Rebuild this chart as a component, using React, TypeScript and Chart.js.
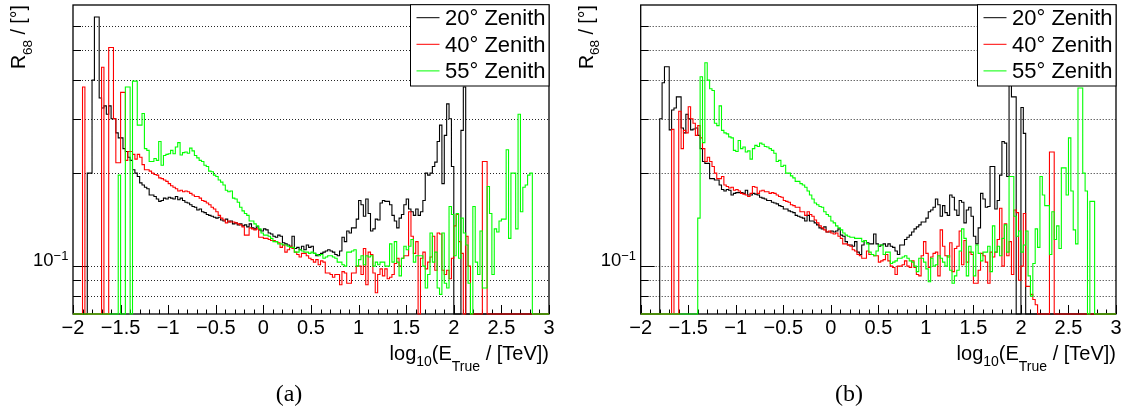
import React, { useEffect, useRef } from "react";
import { Chart, registerables } from "chart.js";

Chart.register(...registerables);

// ---------------- data ----------------
const X_MIN = -2;
const X_MAX = 3;
const BIN_WIDTH = 0.025; // 200 bins from -2 to 3
const Y_MIN = 0.07;
const Y_MAX = 0.7;

const X_TICK_VALUES = [-2, -1.5, -1, -0.5, 0, 0.5, 1, 1.5, 2, 2.5, 3];
const X_TICK_LABELS = ["\u22122", "\u22121.5", "\u22121", "\u22120.5", "0", "0.5", "1", "1.5", "2", "2.5", "3"];
const X_MINOR_STEP = 0.1;
const Y_GRID_VALUES = [0.08, 0.09, 0.1, 0.2, 0.3, 0.4, 0.5, 0.6];
const Y_LABEL_VALUE = 0.1;

const SERIES_LABELS = ["20\u00b0 Zenith", "40\u00b0 Zenith", "55\u00b0 Zenith"];
const SERIES_COLORS = ["#000000", "#ff0000", "#00ff00"];
const PANEL_CAPTIONS = ["(a)", "(b)"];

// panel (a)
const panelA_20 = [
  0, 0, 0, 0, 0, 0, 0.2, 0.2, 0.4, 0.64,
  0.64, 0.35, 0.325, 0.33, 0.31, 0.33, 0.3, 0.3, 0.27, 0.26,
  0.26, 0.24, 0.235, 0.225, 0.22, 0.205, 0.2, 0.195, 0.186, 0.183,
  0.18, 0.178, 0.17, 0.17, 0.168, 0.165, 0.162, 0.163, 0.166, 0.165,
  0.167, 0.166, 0.165, 0.168, 0.164, 0.166, 0.163, 0.161, 0.16, 0.158,
  0.156, 0.155, 0.152, 0.153, 0.15, 0.149, 0.147, 0.146, 0.145, 0.144,
  0.143, 0.144, 0.141, 0.14, 0.142, 0.139, 0.14, 0.137, 0.138, 0.136,
  0.137, 0.135, 0.136, 0.134, 0.137, 0.133, 0.132, 0.134, 0.131, 0.13,
  0.132, 0.131, 0.128, 0.127, 0.125, 0.124, 0.126, 0.125, 0.119, 0.118,
  0.117, 0.116, 0.125, 0.114, 0.115, 0.113, 0.116, 0.113, 0.117, 0.115,
  0.116, 0.11, 0.108, 0.109, 0.11, 0.111, 0.112, 0.113, 0.112, 0.111,
  0.109, 0.108, 0.112, 0.124, 0.12, 0.13, 0.128, 0.133, 0.133, 0.142,
  0.163, 0.158, 0.145, 0.165, 0.148, 0.13, 0.132, 0.142, 0.141, 0.16,
  0.163, 0.162, 0.162, 0.158, 0.146, 0.14, 0.133, 0.143, 0.147, 0.158,
  0.165, 0.153, 0.15, 0.146, 0.153, 0.146, 0.15, 0.163, 0.2, 0.197,
  0.2, 0.21, 0.217, 0.253, 0.286, 0.185, 0.265, 0.335, 0.3, 0.21,
  0, 0, 0, 0.275, 0.38, 0, 0, 0, 0, 0,
  0, 0, 0, 0, 0, 0, 0, 0, 0, 0,
  0, 0, 0, 0, 0, 0, 0, 0, 0, 0,
  0, 0, 0, 0, 0, 0, 0, 0, 0, 0,
];
const panelA_40 = [
  0, 0, 0, 0, 0.38, 0, 0, 0, 0, 0,
  0, 0, 0.44, 0, 0, 0.51, 0.51, 0.3, 0.216, 0.216,
  0.365, 0.365, 0.22, 0.235, 0.235, 0.23, 0.222, 0.23, 0.225, 0.213,
  0.205, 0.205, 0.203, 0.2, 0.198, 0.197, 0.193, 0.192, 0.19, 0.188,
  0.185, 0.182, 0.18, 0.178, 0.175, 0.176, 0.174, 0.175, 0.174, 0.172,
  0.17, 0.168, 0.168, 0.166, 0.163, 0.162, 0.16, 0.158, 0.155, 0.153,
  0.15, 0.146, 0.143, 0.141, 0.138, 0.14, 0.139, 0.139, 0.138, 0.137,
  0.136, 0.134, 0.126, 0.126, 0.133, 0.132, 0.131, 0.132, 0.124, 0.124,
  0.123, 0.123, 0.122, 0.121, 0.121, 0.12, 0.119, 0.115, 0.117, 0.111,
  0.113, 0.116, 0.114, 0.111, 0.109, 0.107, 0.11, 0.11, 0.108, 0.106,
  0.105, 0.103, 0.105, 0.101, 0.104, 0.103, 0.095, 0.095, 0.094, 0.092,
  0.094, 0.094, 0.087, 0.096, 0.095, 0.088, 0.088, 0.095, 0.095, 0.1,
  0.1, 0.094, 0.114, 0.087, 0.111, 0.109, 0.095, 0.082, 0.094, 0.098,
  0.093, 0.098, 0.091, 0.092, 0.094, 0.102, 0.106, 0.1, 0.106, 0.108,
  0.108, 0.15, 0.125, 0.11, 0.12, 0, 0.106, 0.111, 0.098, 0.103,
  0.107, 0.125, 0.097, 0.128, 0.127, 0.097, 0.094, 0.097, 0.091, 0.106,
  0.135, 0.147, 0.12, 0.11, 0, 0.125, 0.1, 0, 0, 0,
  0, 0, 0.218, 0.218, 0, 0, 0, 0, 0, 0,
  0, 0, 0, 0, 0, 0, 0, 0, 0, 0,
  0, 0, 0, 0, 0, 0, 0, 0, 0, 0,
];
const panelA_55 = [
  0, 0, 0, 0, 0, 0, 0, 0, 0, 0,
  0, 0, 0, 0, 0, 0, 0, 0, 0, 0.197,
  0, 0, 0.38, 0.38, 0, 0.397, 0.397, 0.286, 0.286, 0.312,
  0.24, 0.237, 0.218, 0.218, 0.223, 0.22, 0.253, 0.212, 0.228, 0.23,
  0.231, 0.237, 0.231, 0.243, 0.251, 0.229, 0.233, 0.234, 0.232, 0.241,
  0.236, 0.228, 0.224, 0.22, 0.218, 0.212, 0.21, 0.203, 0.202, 0.197,
  0.195, 0.19, 0.187, 0.183, 0.176, 0.174, 0.175, 0.166, 0.165, 0.161,
  0.155, 0.151, 0.148, 0.146, 0.14, 0.14, 0.137, 0.135, 0.132, 0.128,
  0.126, 0.126, 0.125, 0.123, 0.12, 0.12, 0.118, 0.118, 0.117, 0.117,
  0.116, 0.115, 0.115, 0.111, 0.111, 0.113, 0.112, 0.111, 0.111, 0.11,
  0.111, 0.11, 0.109, 0.108, 0.109, 0.106, 0.107, 0.108, 0.108, 0.107,
  0.106, 0.103, 0.103, 0.101, 0.1, 0.111, 0.111, 0.112, 0.113, 0.1,
  0.105, 0.108, 0.101, 0.108, 0.107, 0.108, 0.1, 0.103, 0.101, 0.103,
  0.103, 0.1, 0.1, 0.118, 0.103, 0.12, 0.103, 0.093, 0.106, 0.116,
  0.113, 0.116, 0.122, 0.103, 0.108, 0.108, 0.108, 0.1, 0.085, 0.094,
  0.128, 0.103, 0.111, 0.085, 0.081, 0.128, 0.088, 0.085, 0.156, 0.147,
  0.108, 0.148, 0.106, 0.143, 0.128, 0.117, 0.088, 0, 0.156, 0.103,
  0.094, 0.13, 0.085, 0.085, 0.181, 0.148, 0.094, 0.132, 0.129, 0.14,
  0.142, 0.142, 0.238, 0.123, 0.2, 0.2, 0.132, 0.31, 0.15, 0.18,
  0.183, 0.197, 0.2, 0, 0, 0, 0, 0, 0, 0,
];

// panel (b)
const panelB_20 = [
  0, 0, 0, 0, 0, 0, 0, 0, 0.3, 0.392,
  0.442, 0.442, 0.276, 0.32, 0.325, 0.353, 0.353, 0.28, 0.27, 0.31,
  0.3, 0.276, 0.278, 0.28, 0.265, 0.24, 0.218, 0.215, 0.215, 0.192,
  0.192, 0.19, 0.19, 0.183, 0.177, 0.175, 0.177, 0.176, 0.17, 0.172,
  0.173, 0.173, 0.173, 0.172, 0.176, 0.17, 0.17, 0.172, 0.171, 0.17,
  0.167, 0.166, 0.165, 0.163, 0.163, 0.161, 0.16, 0.159, 0.157, 0.156,
  0.153, 0.153, 0.151, 0.15, 0.149, 0.146, 0.145, 0.144, 0.143, 0.14,
  0.146, 0.14, 0.14, 0.138, 0.136, 0.133, 0.132, 0.134, 0.129, 0.129,
  0.13, 0.129, 0.13, 0.132, 0.126, 0.125, 0.12, 0.117, 0.117, 0.116,
  0.12, 0.111, 0.109, 0.117, 0.121, 0.119, 0.118, 0.118, 0.127, 0.118,
  0.116, 0.117, 0.118, 0.116, 0.118, 0.116, 0.115, 0.112, 0.109, 0.117,
  0.117, 0.122, 0.124, 0.126, 0.129, 0.132, 0.134, 0.136, 0.139, 0.139,
  0.143, 0.15, 0.152, 0.155, 0.165, 0.158, 0.145, 0.157, 0.149, 0.146,
  0.17, 0.167, 0.152, 0.146, 0.163, 0.161, 0.138, 0.152, 0.155, 0.145,
  0.125, 0.118, 0.133, 0.172, 0.165, 0.155, 0.156, 0.21, 0.21, 0.153,
  0.163, 0.197, 0.253, 0.25, 0.195, 0.55, 0.353, 0.353, 0, 0,
  0.326, 0.269, 0, 0, 0, 0, 0, 0, 0, 0,
  0, 0, 0, 0, 0, 0, 0, 0, 0, 0,
  0, 0, 0, 0, 0, 0, 0, 0, 0, 0,
  0, 0, 0, 0, 0, 0, 0, 0, 0, 0,
];
const panelB_40 = [
  0, 0, 0, 0, 0, 0, 0, 0, 0, 0,
  0, 0, 0, 0.277, 0, 0, 0.317, 0.24, 0.275, 0.27,
  0.328, 0.3, 0.29, 0.265, 0.285, 0.26, 0.24, 0.218, 0.225, 0.218,
  0.21, 0.2, 0.192, 0.192, 0.195, 0.183, 0.181, 0.179, 0.18, 0.176,
  0.177, 0.175, 0.172, 0.171, 0.17, 0.168, 0.172, 0.181, 0.18, 0.172,
  0.175, 0.176, 0.174, 0.174, 0.172, 0.173, 0.172, 0.17, 0.168, 0.167,
  0.163, 0.162, 0.161, 0.158, 0.157, 0.155, 0.155, 0.15, 0.15, 0.146,
  0.15, 0.147, 0.145, 0.141, 0.138, 0.135, 0.133, 0.131, 0.129, 0.13,
  0.128, 0.127, 0.128, 0.125, 0.123, 0.118, 0.118, 0.117, 0.116, 0.113,
  0.112, 0.109, 0.108, 0.106, 0.106, 0.112, 0.109, 0.109, 0.108, 0.108,
  0.103, 0.104, 0.105, 0.109, 0.104, 0.1, 0.099, 0.094, 0.1, 0.1,
  0.101, 0.104, 0.1, 0.099, 0.104, 0.099, 0.094, 0.093, 0.108, 0.12,
  0.11, 0.099, 0.107, 0.11, 0.111, 0.093, 0.131, 0.116, 0.108, 0.107,
  0.119, 0.096, 0.114, 0.116, 0.13, 0.101, 0.121, 0.103, 0.111, 0.109,
  0.088, 0.088, 0.097, 0.11, 0.108, 0.103, 0.088, 0.111, 0.107, 0.111,
  0.122, 0.154, 0.1, 0.137, 0.108, 0.12, 0.094, 0.152, 0.149, 0.09,
  0.1, 0.148, 0.086, 0.086, 0.081, 0.078, 0.075, 0, 0, 0,
  0, 0, 0.234, 0.234, 0, 0, 0, 0, 0, 0,
  0, 0, 0, 0, 0, 0, 0, 0, 0, 0,
  0, 0, 0, 0, 0, 0, 0, 0, 0, 0,
];
const panelB_55 = [
  0, 0, 0, 0, 0, 0, 0, 0, 0, 0,
  0, 0, 0, 0, 0, 0, 0, 0, 0, 0,
  0, 0, 0, 0, 0.143, 0.41, 0.251, 0.455, 0.4, 0.375,
  0.37, 0.29, 0.285, 0.33, 0.275, 0.27, 0.268, 0.262, 0.26, 0.237,
  0.235, 0.255, 0.24, 0.243, 0.234, 0.236, 0.222, 0.24, 0.246, 0.244,
  0.25, 0.248, 0.244, 0.243, 0.24, 0.237, 0.232, 0.218, 0.22, 0.21,
  0.212, 0.2, 0.2, 0.196, 0.193, 0.188, 0.188, 0.185, 0.183, 0.18,
  0.175, 0.17, 0.165, 0.16, 0.158, 0.156, 0.155, 0.15, 0.147, 0.145,
  0.14, 0.138, 0.135, 0.133, 0.131, 0.128, 0.126, 0.125, 0.124, 0.124,
  0.123, 0.123, 0.123, 0.12, 0.121, 0.118, 0.111, 0.109, 0.108, 0.112,
  0.117, 0.117, 0.109, 0.111, 0.111, 0.102, 0.103, 0.104, 0.106, 0.106,
  0.107, 0.108, 0.106, 0.104, 0.103, 0.1, 0.096, 0.106, 0.106, 0.103,
  0.098, 0.089, 0.106, 0.1, 0.101, 0.108, 0.106, 0.103, 0.1, 0.108,
  0.097, 0.088, 0.093, 0.097, 0.112, 0.132, 0.123, 0.093, 0.116, 0.111,
  0.093, 0.117, 0.11, 0.104, 0.111, 0.111, 0.116, 0.096, 0.135, 0.111,
  0.116, 0.108, 0.123, 0.136, 0.111, 0.195, 0.195, 0.145, 0.125, 0.13,
  0.111, 0.117, 0.13, 0.093, 0.08, 0.102, 0.132, 0.115, 0.195, 0.17,
  0.157, 0.157, 0.109, 0.15, 0.122, 0.135, 0.114, 0.208, 0.208, 0.17,
  0.26, 0.175, 0.131, 0.118, 0.377, 0.377, 0.2, 0.175, 0, 0.162,
  0.162, 0, 0, 0, 0, 0, 0, 0, 0, 0,
];

// ---------------- drawing helpers ----------------
const SANS = '"Liberation Sans", Arial, Helvetica, sans-serif';

type Seg = { t: string; size: number; dy: number };

function drawRich(ctx: CanvasRenderingContext2D, segs: Seg[], x: number, y: number, align: "left" | "right") {
  const widths = segs.map((s) => {
    ctx.font = `${s.size}px ${SANS}`;
    return ctx.measureText(s.t).width;
  });
  const total = widths.reduce((a, b) => a + b, 0);
  let cx = align === "right" ? x - total : x;
  ctx.textAlign = "left";
  ctx.textBaseline = "alphabetic";
  segs.forEach((s, i) => {
    ctx.font = `${s.size}px ${SANS}`;
    ctx.fillText(s.t, cx, y + s.dy);
    cx += widths[i];
  });
}

function histPoints(values: number[]) {
  const pts = values.map((v, i) => ({ x: X_MIN + i * BIN_WIDTH, y: v > 0 ? v : Y_MIN }));
  const last = values[values.length - 1];
  pts.push({ x: X_MAX, y: last > 0 ? last : Y_MIN });
  return pts;
}

const rootStylePlugin = {
  id: "rootStyle",
  beforeDatasetsDraw(chart: any) {
    const { ctx, chartArea: a, scales } = chart;
    const xs = scales.x;
    const ys = scales.y;
    ctx.save();
    // dotted horizontal grid
    ctx.strokeStyle = "rgba(0,0,0,0.85)";
    ctx.lineWidth = 1;
    ctx.setLineDash([1, 2]);
    for (const v of Y_GRID_VALUES) {
      const py = Math.round(ys.getPixelForValue(v)) + 0.5;
      ctx.beginPath();
      ctx.moveTo(a.left, py);
      ctx.lineTo(a.right, py);
      ctx.stroke();
    }
    ctx.setLineDash([]);
    // frame
    ctx.strokeStyle = "#000";
    ctx.lineWidth = 1.3;
    ctx.strokeRect(a.left, a.top, a.right - a.left, a.bottom - a.top);
    // x ticks (inside)
    ctx.lineWidth = 1;
    const nMinor = Math.round((X_MAX - X_MIN) / X_MINOR_STEP);
    for (let k = 0; k <= nMinor; k++) {
      const v = X_MIN + k * X_MINOR_STEP;
      const px = Math.round(xs.getPixelForValue(v)) + 0.5;
      const len = k % 5 === 0 ? 9 : 4.5;
      ctx.beginPath();
      ctx.moveTo(px, a.bottom);
      ctx.lineTo(px, a.bottom - len);
      ctx.stroke();
    }
    // y ticks (inside)
    for (const v of Y_GRID_VALUES) {
      const py = Math.round(ys.getPixelForValue(v)) + 0.5;
      const len = v === Y_LABEL_VALUE ? 14 : 8;
      ctx.beginPath();
      ctx.moveTo(a.left, py);
      ctx.lineTo(a.left + len, py);
      ctx.stroke();
    }
    ctx.restore();
  },
  afterDatasetsDraw(chart: any) {
    const { ctx, chartArea: a, scales } = chart;
    const xs = scales.x;
    const ys = scales.y;
    ctx.save();
    // legend box
    const bw = 138.5;
    const bh = 81.3;
    const bx = a.right - bw;
    const by = a.top - 0.3;
    ctx.fillStyle = "#fff";
    ctx.fillRect(bx, by, bw, bh);
    ctx.strokeStyle = "#000";
    ctx.lineWidth = 1;
    ctx.strokeRect(bx, by, bw, bh);
    SERIES_LABELS.forEach((label, i) => {
      const rowY = by + 13 + i * 26.6;
      ctx.strokeStyle = SERIES_COLORS[i];
      ctx.lineWidth = 1;
      ctx.beginPath();
      ctx.moveTo(bx + 6, rowY);
      ctx.lineTo(bx + 29, rowY);
      ctx.stroke();
      ctx.fillStyle = "#000";
      ctx.font = `22px ${SANS}`;
      ctx.textAlign = "left";
      ctx.textBaseline = "alphabetic";
      ctx.fillText(label, bx + 34.5, by + 20.5 + i * 26.6);
    });

    // x tick labels
    ctx.fillStyle = "#000";
    ctx.font = `20px ${SANS}`;
    ctx.textAlign = "center";
    ctx.textBaseline = "alphabetic";
    X_TICK_VALUES.forEach((v, i) => {
      const px = xs.getPixelForValue(v);
      ctx.fillText(X_TICK_LABELS[i], px, a.bottom + 20);
    });

    // y tick label 10^-1
    const py = ys.getPixelForValue(Y_LABEL_VALUE);
    drawRich(
      ctx,
      [
        { t: "10", size: 18.5, dy: 0 },
        { t: "\u22121", size: 13, dy: -6 },
      ],
      a.left - 40,
      py,
      "left"
    );

    // x title
    drawRich(
      ctx,
      [
        { t: "log", size: 20, dy: 0 },
        { t: "10", size: 14, dy: 6 },
        { t: "(E", size: 20, dy: 0 },
        { t: "True", size: 14, dy: 11 },
        { t: " / [TeV])", size: 20, dy: 0 },
      ],
      a.right,
      a.bottom + 46,
      "right"
    );

    // y title (rotated)
    ctx.save();
    ctx.translate(a.left - 48, a.top);
    ctx.rotate(-Math.PI / 2);
    drawRich(
      ctx,
      [
        { t: "R", size: 19.5, dy: 0 },
        { t: "68", size: 13.5, dy: 6.5 },
        { t: " / [\u00b0]", size: 19.5, dy: 0 },
      ],
      0,
      0,
      "right"
    );
    ctx.restore();
    ctx.restore();
  },
};

type PanelProps = {
  series: number[][];
  left: number;
  width: number;
  axisWidth: number;
  padRight: number;
};

function Panel({ series, left, width, axisWidth, padRight }: PanelProps) {
  const ref = useRef<HTMLCanvasElement | null>(null);
  useEffect(() => {
    if (!ref.current) return;
    const datasets = series.map((vals, i) => ({
      label: SERIES_LABELS[i],
      data: histPoints(vals),
      borderColor: SERIES_COLORS[i],
      backgroundColor: SERIES_COLORS[i],
      borderWidth: 1.1,
      stepped: "before" as const,
      pointRadius: 0,
      fill: false,
      tension: 0,
      order: 2 - i,
      clip: { left: 0, top: 0, right: 0, bottom: 1 },
    }));
    const chart = new Chart(ref.current, {
      type: "line",
      data: { datasets },
      options: {
        responsive: false,
        maintainAspectRatio: false,
        animation: false,
        events: [],
        layout: { padding: { left: 0, right: padRight, top: 5, bottom: 0 } },
        plugins: { legend: { display: false }, tooltip: { enabled: false } },
        scales: {
          x: {
            type: "linear",
            min: X_MIN,
            max: X_MAX,
            ticks: { display: false, stepSize: 0.5 },
            grid: { display: false },
            border: { display: false },
            afterFit: (s: any) => {
              s.height = 101;
            },
          },
          y: {
            type: "logarithmic",
            min: Y_MIN,
            max: Y_MAX,
            ticks: { display: false },
            grid: { display: false },
            border: { display: false },
            afterBuildTicks: (s: any) => {
              s.ticks = Y_GRID_VALUES.map((v) => ({ value: v }));
            },
            afterFit: (s: any) => {
              s.width = axisWidth;
            },
          },
        },
      } as any,
      plugins: [rootStylePlugin],
    });
    return () => chart.destroy();
  }, [series, axisWidth, padRight]);
  return (
    <canvas
      ref={ref}
      width={width}
      height={415}
      style={{ position: "absolute", left, top: 0, width, height: 415 }}
    />
  );
}

const captionStyle: React.CSSProperties = {
  position: "absolute",
  top: 379,
  fontFamily: '"Liberation Serif", "DejaVu Serif", serif',
  fontSize: 24,
  lineHeight: "28px",
  color: "#000",
  width: 60,
  textAlign: "center",
};

export default function App() {
  return (
    <div style={{ position: "absolute", left: 0, top: 0, width: 1123, height: 415, background: "#fff", overflow: "hidden" }}>
      <Panel series={[panelA_20, panelA_40, panelA_55]} left={0} width={560} axisWidth={73} padRight={11} />
      <Panel series={[panelB_20, panelB_40, panelB_55]} left={560} width={563} axisWidth={80.7} padRight={7} />
      <div style={{ ...captionStyle, left: 259 }}>{PANEL_CAPTIONS[0]}</div>
      <div style={{ ...captionStyle, left: 819 }}>{PANEL_CAPTIONS[1]}</div>
    </div>
  );
}
